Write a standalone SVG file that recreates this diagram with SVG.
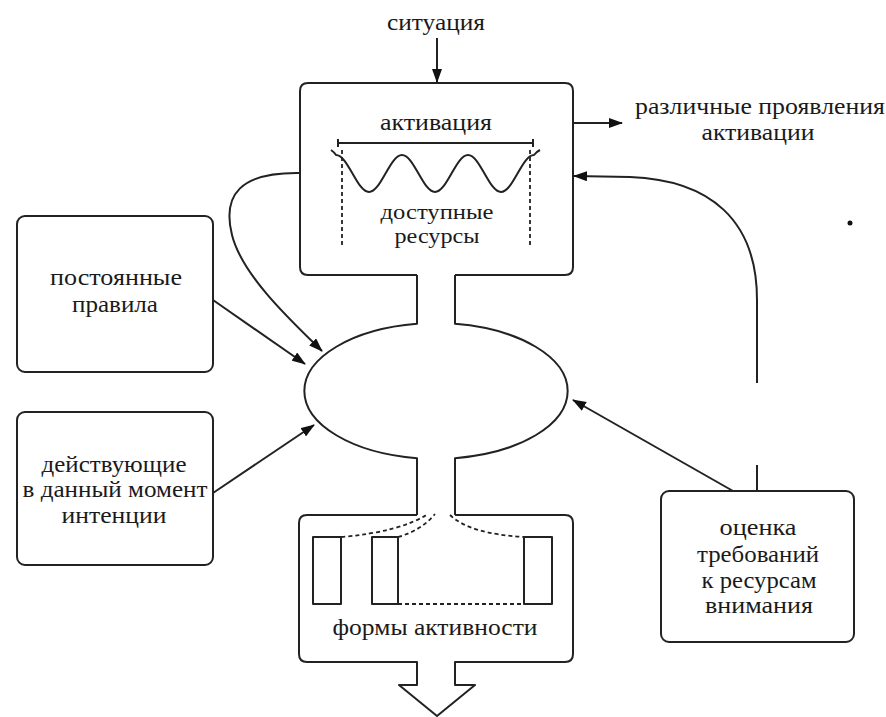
<svg xmlns="http://www.w3.org/2000/svg" width="886" height="717" viewBox="0 0 886 717">
<style>
.ln{fill:none;stroke:#222;stroke-width:2;stroke-linejoin:round}
.dash{fill:none;stroke:#222;stroke-width:1.8;stroke-dasharray:4 3}
.t{font-family:"Liberation Serif","Times New Roman",serif;font-size:23px;fill:#1a1a1a;text-anchor:middle}
.s{font-size:20px}
</style>
<defs>
<marker id="ah" viewBox="0 0 14 10" refX="13" refY="5" markerWidth="14" markerHeight="10" markerUnits="userSpaceOnUse" orient="auto">
<path d="M0 0 L14 5 L0 10 Z" fill="#111"/>
</marker>
</defs>
<rect width="886" height="717" fill="#fff"/>

<g id="situation">
<text class="t" x="436" y="30" textLength="98" lengthAdjust="spacingAndGlyphs">ситуация</text>
</g>

<g id="activation-box">
<path class="ln" d="M417 275 H308 Q300 275 300 267 V91 Q300 83 308 83 H565 Q573 83 573 91 V267 Q573 275 565 275 H455"/>
<text class="t" x="436" y="130" textLength="112" lengthAdjust="spacingAndGlyphs">активация</text>
<path class="ln" d="M338 143 H533 M338 139 V147 M533 139 V147" stroke-width="1.8"/>
<path class="ln" d="M331 150 Q334 152 336 155 C348 155 357 192 369 192 C381 192 390 155 402 155 C414 155 423 192 435 192 C447 192 456 155 468 155 C480 155 489 192 501 192 C513 192 522 155 534 155 Q536 152 540 150"/>
<path class="dash" d="M342 150 V248 M530 150 V248"/>
<text class="t s" x="437" y="219" textLength="113" lengthAdjust="spacingAndGlyphs">доступные</text>
<text class="t s" x="437" y="243" textLength="85" lengthAdjust="spacingAndGlyphs">ресурсы</text>
</g>

<g id="manifestations">
<text class="t" x="760" y="114" textLength="250" lengthAdjust="spacingAndGlyphs">различные проявления</text>
<text class="t" x="758" y="140" textLength="113" lengthAdjust="spacingAndGlyphs">активации</text>
</g>

<g id="central-ellipse">
<path class="ln" d="M417 275 V323.8 A133 68 0 0 0 417 458.2 V515"/>
<path class="ln" d="M455 275 V323.8 A133 68 0 0 1 455 458.2 V515"/>
</g>

<g id="permanent-rules">
<rect class="ln" x="17" y="216" width="196" height="156" rx="8"/>
<text class="t" x="116" y="285" textLength="132" lengthAdjust="spacingAndGlyphs">постоянные</text>
<text class="t" x="115" y="312" textLength="86" lengthAdjust="spacingAndGlyphs">правила</text>
</g>

<g id="intentions">
<rect class="ln" x="17" y="412" width="196" height="153" rx="8"/>
<text class="t" x="114" y="472" textLength="145" lengthAdjust="spacingAndGlyphs">действующие</text>
<text class="t" x="115" y="497" textLength="185" lengthAdjust="spacingAndGlyphs">в данный момент</text>
<text class="t" x="114" y="523" textLength="105" lengthAdjust="spacingAndGlyphs">интенции</text>
</g>

<g id="evaluation">
<rect class="ln" x="661" y="491" width="193" height="151" rx="8"/>
<text class="t" x="758" y="535" textLength="77" lengthAdjust="spacingAndGlyphs">оценка</text>
<text class="t" x="758" y="562" textLength="122" lengthAdjust="spacingAndGlyphs">требований</text>
<text class="t" x="759" y="588" textLength="115" lengthAdjust="spacingAndGlyphs">к ресурсам</text>
<text class="t" x="759" y="613" textLength="108" lengthAdjust="spacingAndGlyphs">внимания</text>
</g>

<g id="activity-forms">
<path class="ln" d="M417 515 H307 Q299 515 299 523 V654 Q299 662 307 662 H417 V685 H399 L437 716 L475 685 H455 V662 H565 Q573 662 573 654 V523 Q573 515 565 515 H455"/>
<rect class="ln" x="313" y="537" width="28" height="67"/>
<rect class="ln" x="372" y="537" width="26" height="67"/>
<rect class="ln" x="524" y="537" width="28" height="67"/>
<path class="dash" d="M341 537 Q400 532 428 514"/>
<path class="dash" d="M398 537 Q422 530 435 514"/>
<path class="dash" d="M450 515 Q470 534 524 537"/>
<path class="dash" d="M398 604 H524"/>
<text class="t" x="435" y="635" textLength="205" lengthAdjust="spacingAndGlyphs">формы активности</text>
</g>

<g id="dot">
<circle cx="850" cy="223" r="2.5" fill="#111"/>
</g>

<g id="connectors">
<path class="ln" d="M437 38 V82" marker-end="url(#ah)"/>
<path class="ln" d="M573 123 H622" marker-end="url(#ah)"/>
<path class="ln" d="M300 173 C240 172 222 195 232 235 C242 275 290 320 322 351" marker-end="url(#ah)"/>
<path class="ln" d="M213 300 L305 364" marker-end="url(#ah)"/>
<path class="ln" d="M213 493 L314 425" marker-end="url(#ah)"/>
<path class="ln" d="M733 491 L573 400" marker-end="url(#ah)"/>
<path class="ln" d="M757 383 V300 C757 220 710 180 630 177 L574 176" marker-end="url(#ah)"/>
<path class="ln" d="M757 465 V491"/>
</g>
</svg>
